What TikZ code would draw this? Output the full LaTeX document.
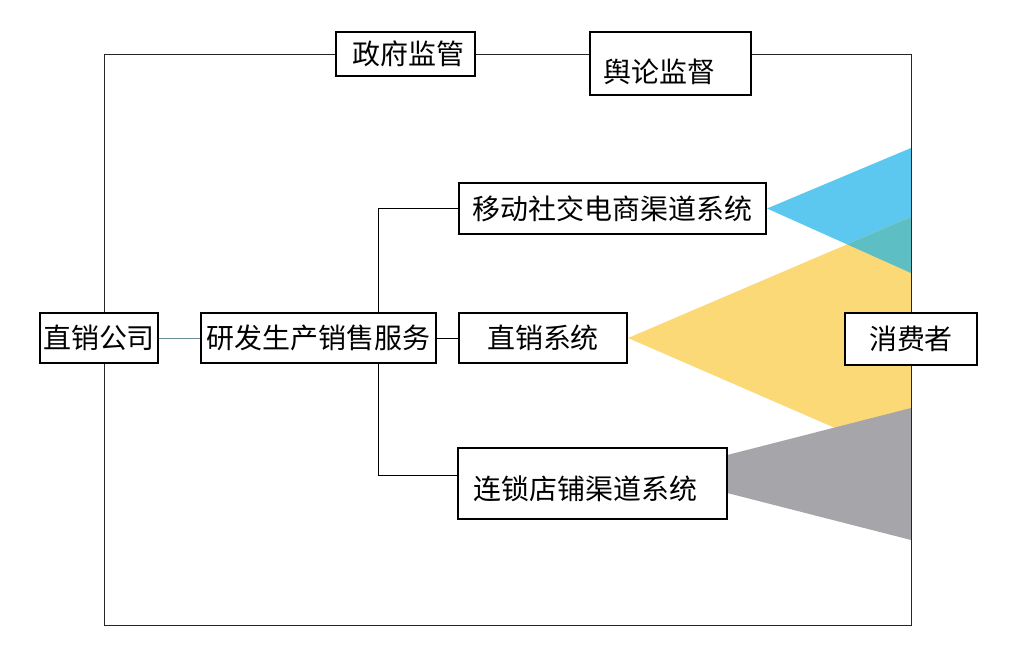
\documentclass[tikz,border=0pt]{standalone}
\usepackage{fontspec}
\newfontfamily\cjk{Noto Sans CJK SC}
\usetikzlibrary{backgrounds}
\newlength\pxl
\setlength\pxl{0.0264cm}
\definecolor{skyblue}{HTML}{5CC8F0}
\definecolor{sunyellow}{HTML}{FCD977}
\definecolor{mixteal}{HTML}{5DBEC3}
\definecolor{shopgray}{HTML}{A6A5A9}
\definecolor{linkblue}{HTML}{6A8FA0}
\tikzset{
  box/.style={draw, line width=1.5pt, fill=white, inner sep=0pt,
    font=\cjk\fontsize{21pt}{25pt}\selectfont},
  link/.style={line width=0.7pt},
  frame/.style={line width=0.7pt, black!85}
}

\begin{document}
\begin{tikzpicture}[x=\pxl, y=-\pxl]
\useasboundingbox (0,0) rectangle (1016,656);

\node[box, minimum width=139\pxl, minimum height=44\pxl] (gov) at (405.5,54) {\hspace*{6\pxl}政府监管};
\node[box, minimum width=161\pxl, minimum height=63\pxl] (opinion) at (670.5,63.5) {\raisebox{-8\pxl}[\height][\depth]{舆论监督}\hspace*{22\pxl}};
\node[box, minimum width=307\pxl, minimum height=51\pxl] (mobile) at (612.5,208.5) {移动社交电商渠道系统};
\node[box, minimum width=168\pxl, minimum height=50\pxl] (direct) at (543,338) {直销系统};
\node[box, minimum width=269\pxl, minimum height=71\pxl] (chain) at (592.5,483.5) {\raisebox{-5\pxl}[\height][\depth]{连锁店铺渠道系统}\hspace*{14\pxl}};
\node[box, minimum width=118\pxl, minimum height=50\pxl] (company) at (99,338) {直销公司};
\node[box, minimum width=235\pxl, minimum height=50\pxl] (rnd) at (318.5,338) {研发生产销售服务};
\node[box, minimum width=132\pxl, minimum height=52\pxl] (consumer) at (911,339) {消费者};

\coordinate (fork) at (378,338);
\draw[link, linkblue] (company) -- (rnd);
\draw[link] (rnd) -- (direct);
\draw[link] (fork |- rnd.north) |- (mobile.west);
\draw[link] (fork |- rnd.south) |- ([yshift=8.5\pxl]chain.west);

\begin{scope}[on background layer]
\fill[skyblue] (mobile.east) -- (911,148) -- (911,273) -- cycle;
\fill[sunyellow] (direct.east) -- (911,217) -- (911,461) -- cycle;
\begin{scope}
\clip (mobile.east) -- (911,148) -- (911,273) -- cycle;
\fill[mixteal] (direct.east) -- (911,217) -- (911,461) -- cycle;
\end{scope}
\fill[shopgray] (653,474) -- (911,408) -- (911,540) -- cycle;
\draw[frame] (104,54) rectangle (911,625);
\end{scope}

\end{tikzpicture}
\end{document}
